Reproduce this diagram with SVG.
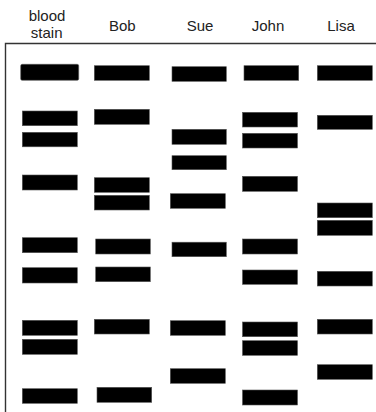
<svg xmlns="http://www.w3.org/2000/svg" width="376" height="412" viewBox="0 0 376 412">
  <style>
    .lbl { font-family: "Liberation Sans", Arial, sans-serif; font-size: 15px; fill: #222; text-anchor: middle; }
    .band { fill: #000; stroke: #555; stroke-width: 0.6; }
    .frame { fill: none; stroke: #333; stroke-width: 1.4; }
  </style>
  <rect width="376" height="412" fill="#fff"/>
  <g id="frame">
    <path class="frame" d="M5.5 412 V43.5 H376"/>
  </g>
  <g id="lane-blood">
    <text class="lbl" x="47" y="21">blood</text>
    <text class="lbl" x="46.7" y="37.5">stain</text>
    <rect class="band" x="20.7" y="64.3" width="58" height="16" rx="1.5"/>
    <rect class="band" x="22.3" y="111" width="55" height="14.7"/>
    <rect class="band" x="22.3" y="132.3" width="55" height="14.5"/>
    <rect class="band" x="22.3" y="175" width="55" height="15"/>
    <rect class="band" x="22.3" y="237.7" width="55" height="15"/>
    <rect class="band" x="22.3" y="267.7" width="55" height="15.3"/>
    <rect class="band" x="22.3" y="320.3" width="55" height="15"/>
    <rect class="band" x="22.3" y="339.3" width="55" height="15"/>
    <rect class="band" x="22.3" y="388.7" width="55" height="14.6"/>
  </g>
  <g id="lane-bob">
    <text class="lbl" x="122.3" y="31">Bob</text>
    <rect class="band" x="94.3" y="65.7" width="55" height="14.6"/>
    <rect class="band" x="94.3" y="109.3" width="55" height="15"/>
    <rect class="band" x="94.3" y="177.7" width="55" height="14.6"/>
    <rect class="band" x="94.3" y="195.3" width="55" height="14.7"/>
    <rect class="band" x="95.7" y="239" width="54.6" height="15"/>
    <rect class="band" x="95.7" y="267" width="54.6" height="14.7"/>
    <rect class="band" x="94.3" y="319.3" width="55" height="14.7"/>
    <rect class="band" x="97" y="387.3" width="54.7" height="15"/>
  </g>
  <g id="lane-sue">
    <text class="lbl" x="200" y="31">Sue</text>
    <rect class="band" x="172" y="66.7" width="54.3" height="14.6"/>
    <rect class="band" x="172" y="129.3" width="54.3" height="15"/>
    <rect class="band" x="172" y="155.7" width="54.3" height="14"/>
    <rect class="band" x="170.3" y="193.7" width="55" height="14.6"/>
    <rect class="band" x="172" y="242.2" width="54.3" height="14.5"/>
    <rect class="band" x="170.3" y="320.7" width="55" height="14.6"/>
    <rect class="band" x="170.3" y="368.7" width="55" height="14.6"/>
  </g>
  <g id="lane-john">
    <text class="lbl" x="268" y="31">John</text>
    <rect class="band" x="244" y="65.7" width="54.7" height="14.6"/>
    <rect class="band" x="242.5" y="112.3" width="55" height="14.7"/>
    <rect class="band" x="242.5" y="133.3" width="55" height="14.7"/>
    <rect class="band" x="242.5" y="176.3" width="55" height="15"/>
    <rect class="band" x="242.5" y="239" width="55" height="15"/>
    <rect class="band" x="242.5" y="270" width="55" height="14.3"/>
    <rect class="band" x="242.5" y="322" width="55" height="14.7"/>
    <rect class="band" x="242.5" y="340.7" width="55" height="14.6"/>
    <rect class="band" x="242.5" y="390" width="55" height="15"/>
  </g>
  <g id="lane-lisa">
    <text class="lbl" x="341" y="31">Lisa</text>
    <rect class="band" x="317.3" y="65.7" width="55" height="14.6"/>
    <rect class="band" x="317.3" y="115.3" width="55" height="14"/>
    <rect class="band" x="317.3" y="203" width="55" height="14.7"/>
    <rect class="band" x="317.3" y="220.3" width="55" height="15"/>
    <rect class="band" x="317.3" y="271.3" width="55" height="14.7"/>
    <rect class="band" x="317.3" y="319.3" width="55" height="14.7"/>
    <rect class="band" x="317.3" y="364.7" width="55" height="14.6"/>
  </g>
  <g id="connectors"></g>
</svg>
